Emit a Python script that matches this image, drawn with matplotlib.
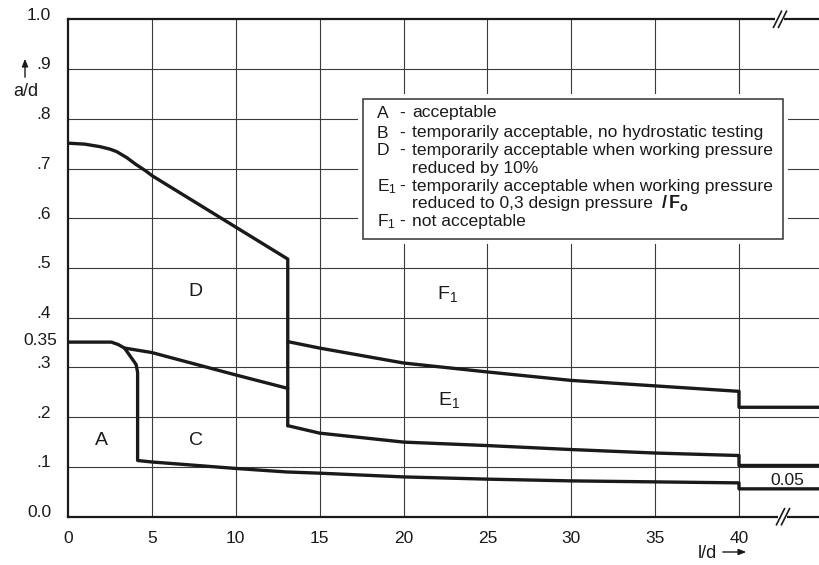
import matplotlib
matplotlib.use("Agg")
import matplotlib.pyplot as plt
from matplotlib.patches import Rectangle
from matplotlib.lines import Line2D

plt.rcParams["font.family"] = ["Liberation Sans", "DejaVu Sans"]
plt.rcParams["mathtext.fontset"] = "custom"
plt.rcParams["mathtext.rm"] = "Liberation Sans"
plt.rcParams["mathtext.it"] = "Liberation Sans:italic"
plt.rcParams["mathtext.bf"] = "Liberation Sans:bold"

# --- data (x = l/d, y = a/d) ---
x_end = 45

# D / F1 upper boundary, then vertical step at l/d = 13.1
d_x = [0, 1, 1.9, 2.5, 2.9, 3.5, 4.06, 4.6, 5.04, 13.1]
d_y = [0.751, 0.749, 0.744, 0.739, 0.734, 0.722, 0.708, 0.696, 0.685, 0.518]
step_x = 13.1
step_bottom = 0.183

# F1 / E1 boundary
f1_x = [13.1, 15, 20, 25, 30, 35, 40, 40, x_end]
f1_y = [0.352, 0.339, 0.309, 0.291, 0.274, 0.263, 0.252, 0.220, 0.220]

# E1 / C boundary
e1_x = [13.1, 15, 20, 25, 30, 35, 40, 40, x_end]
e1_y = [0.183, 0.168, 0.150, 0.143, 0.135, 0.128, 0.123, 0.103, 0.103]

# D / C boundary (starts at 0.35)
dc_x = [0, 2.59, 3.0, 3.37, 5, 10, 13.1]
dc_y = [0.351, 0.351, 0.346, 0.339, 0.330, 0.285, 0.258]

# A / C boundary branch
ac_x = [3.37, 4.06, 4.15, 4.15]
ac_y = [0.339, 0.306, 0.290, 0.113]

# C lower boundary
c_x = [4.15, 5, 10, 13, 15, 20, 25, 30, 35, 40, 40, x_end]
c_y = [0.113, 0.110, 0.097, 0.090, 0.0875, 0.080, 0.0755, 0.072, 0.070, 0.068, 0.056, 0.056]

x_ticks = [0, 5, 10, 15, 20, 25, 30, 35, 40]
y_ticks = [0.0, 0.1, 0.2, 0.3, 0.4, 0.5, 0.6, 0.7, 0.8, 0.9, 1.0]
y_labels = ["0.0", ".1", ".2", ".3", ".4", ".5", ".6", ".7", ".8", ".9", "1.0"]

legend_rows = [
    ("A", "acceptable"),
    ("B", "temporarily acceptable, no hydrostatic testing"),
    ("D", "temporarily acceptable when working pressure"),
    ("", "reduced by 10%"),
    ("E$_1$", "temporarily acceptable when working pressure"),
    ("", "reduced to 0,3 design pressure"),
    ("F$_1$", "not acceptable"),
]

W, H = 819, 565
INK = "#1a1a1a"


def fpx(x, y):
    # image pixel (top-left origin) -> figure fraction
    return x / W, 1 - y / H


fig = plt.figure(figsize=(W / 100, H / 100), dpi=100)
ax_left, ax_right, ax_top, ax_bottom = 68, 819, 19.3, 516.7
ax = fig.add_axes([ax_left / W, 1 - ax_bottom / H,
                   (ax_right - ax_left) / W, (ax_bottom - ax_top) / H])
xmax = (ax_right - ax_left) / 16.775
ax.set_xlim(0, xmax)
ax.set_ylim(0, 1)

# grid
for xv in x_ticks[1:]:
    ax.axvline(xv, color="#3a3a3a", lw=0.8, zorder=1)
for yv in y_ticks[1:-1]:
    ax.axhline(yv, color="#3a3a3a", lw=0.8, zorder=1)

for s in ["left", "bottom", "top"]:
    ax.spines[s].set_linewidth(1.6)
    ax.spines[s].set_color(INK)
ax.spines["right"].set_visible(False)

ax.set_xticks(x_ticks)
ax.set_xticklabels([str(v) for v in x_ticks], fontsize=12.5, color=INK)
ax.tick_params(axis="x", length=0, pad=10)
ax.set_yticks([])

for v, lab in zip(y_ticks, y_labels):
    ax.annotate(lab, xy=(0, v), xycoords=("axes fraction", "data"),
                xytext=(-12, 3), textcoords="offset points",
                ha="right", va="center", fontsize=12.5, color=INK)
ax.annotate("0.35", xy=(0, 0.351), xycoords=("axes fraction", "data"),
            xytext=(-7.5, 1), textcoords="offset points",
            ha="right", va="center", fontsize=12.5, color=INK)

# curves
kw = dict(color=INK, lw=2.4, solid_joinstyle="round", solid_capstyle="round", zorder=3)
ax.plot(d_x + [step_x], d_y + [step_bottom], **kw)
ax.plot(f1_x, f1_y, **kw)
ax.plot(e1_x, e1_y, **kw)
ax.plot(dc_x, dc_y, **kw)
ax.plot(ac_x + c_x, ac_y + c_y, **kw)

# region labels
for txt, x, y in [("D", 7.6, 0.452), ("F$_1$", 22.6, 0.448), ("E$_1$", 22.7, 0.234),
                  ("A", 2.0, 0.153), ("C", 7.65, 0.153)]:
    ax.text(x, y, txt, ha="center", va="center", fontsize=14, color=INK)
ax.text(42.9, 0.073, "0.05", ha="center", va="center", fontsize=12.5, color=INK)

# legend box
pad = 5
x0, y0, x1, y1 = 363, 99, 783, 239
ax.add_patch(Rectangle(fpx(x0 - pad, y1 + pad), (x1 - x0 + 2 * pad) / W,
                       (y1 - y0 + 2 * pad) / H, transform=fig.transFigure,
                       facecolor="white", edgecolor="none", zorder=5, clip_on=False))
ax.add_patch(Rectangle(fpx(x0, y1), (x1 - x0) / W, (y1 - y0) / H,
                       transform=fig.transFigure, facecolor="white",
                       edgecolor="#333333", lw=1.1, zorder=6, clip_on=False))
row_y = [113, 133, 150.5, 168, 186.5, 203.5, 221.5]
for (key, desc), ry in zip(legend_rows, row_y):
    if key:
        fig.text(*fpx(377, ry), key, ha="left", va="center", fontsize=12.6, color=INK, zorder=7)
        fig.text(*fpx(399, ry), "-", ha="left", va="center", fontsize=12.6, color=INK, zorder=7)
    fig.text(*fpx(412, ry), desc, ha="left", va="center", fontsize=12.6, color=INK, zorder=7)
fig.text(*fpx(661, 203), r"$\mathbf{/\,F_{o}}$", ha="left", va="center",
         fontsize=13, color=INK, zorder=7)

# axis names with arrows
fig.text(*fpx(26, 91), "a/d", ha="center", va="center", fontsize=13, color=INK)
ax.annotate("", xy=fpx(25, 56), xytext=fpx(25, 80), xycoords="figure fraction",
            textcoords="figure fraction",
            arrowprops=dict(arrowstyle="-|>,head_length=0.45,head_width=0.18",
                            color=INK, lw=1.0))
fig.text(*fpx(707, 553), "l/d", ha="center", va="center", fontsize=13, color=INK)
ax.annotate("", xy=fpx(749, 552), xytext=fpx(720, 552), xycoords="figure fraction",
            textcoords="figure fraction",
            arrowprops=dict(arrowstyle="-|>,head_length=0.45,head_width=0.18",
                            color=INK, lw=1.0))

# axis break marks
for bx, by in [(780, 19.3), (783, 516.7)]:
    fig.add_artist(Rectangle(fpx(bx - 5, by + 3), 9 / W, 6 / H,
                             facecolor="white", edgecolor="none", zorder=8))
    for dx in (-2.5, 2.5):
        xa, ya = fpx(bx + dx - 4, by + 8)
        xb, yb = fpx(bx + dx + 4, by - 8)
        fig.add_artist(Line2D([xa, xb], [ya, yb], color=INK, lw=1.2, zorder=9))

fig.savefig("out.png", dpi=100, facecolor="white")
